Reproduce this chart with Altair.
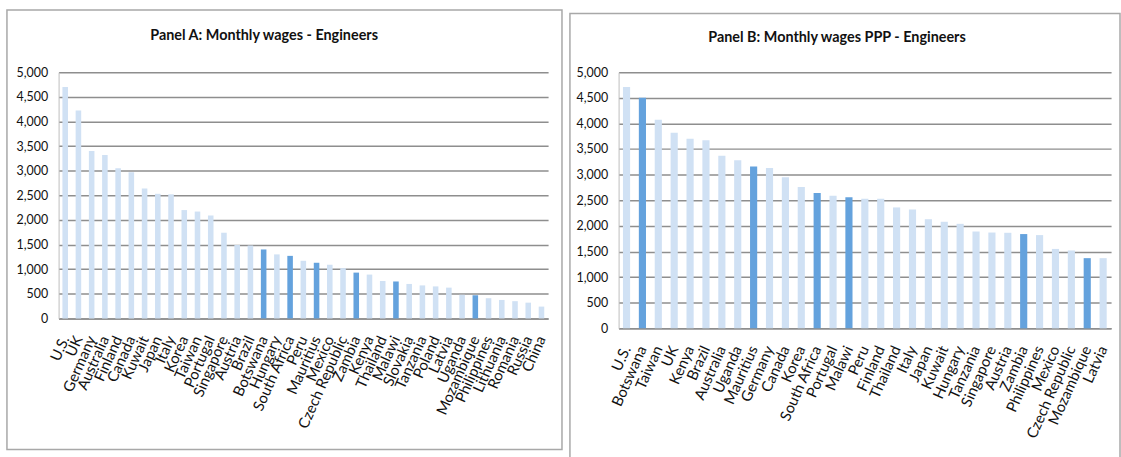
import altair as alt
import pandas as pd

# Panel A: monthly wages of engineers (US$)
countries_a = [
    "U.S.", "UK", "Germany", "Australia", "Finland", "Canada", "Kuwait", "Japan",
    "Italy", "Korea", "Taiwan", "Portugal", "Singapore", "Austria", "Brazil",
    "Botswana", "Hungary", "South Africa", "Peru", "Mauritius", "Mexico",
    "Czech Republic", "Zambia", "Kenya", "Thailand", "Malawi", "Slovakia",
    "Tanzania", "Poland", "Latvia", "Uganda", "Mozambique", "Philippines",
    "Lithuania", "Romania", "Russia", "China",
]
wages_a = [
    4700, 4220, 3400, 3320, 3050, 2970, 2640, 2530,
    2520, 2200, 2170, 2090, 1740, 1490, 1480,
    1400, 1300, 1270, 1170, 1130, 1090,
    1020, 930, 890, 760, 750, 700,
    670, 650, 625, 480, 470, 410,
    375, 350, 320, 240,
]

# Panel B: monthly wages of engineers at PPP
countries_b = [
    "U.S.", "Botswana", "Taiwan", "UK", "Kenya", "Brazil", "Australia", "Uganda",
    "Mauritius", "Germany", "Canada", "Korea", "South Africa", "Portugal",
    "Malawi", "Peru", "Finland", "Thailand", "Italy", "Japan", "Kuwait",
    "Hungary", "Tanzania", "Singapore", "Austria", "Zambia", "Philippines",
    "Mexico", "Czech Republic", "Mozambique", "Latvia",
]
wages_b = [
    4710, 4500, 4070, 3820, 3700, 3670, 3370, 3280,
    3160, 3130, 2950, 2760, 2640, 2590,
    2560, 2530, 2530, 2360, 2320, 2130, 2080,
    2040, 1890, 1870, 1865, 1840, 1820,
    1550, 1520, 1370, 1370,
]

# Countries drawn in the darker colour
highlighted = ["Botswana", "South Africa", "Mauritius", "Zambia", "Malawi", "Mozambique"]

y_ticks = [0, 500, 1000, 1500, 2000, 2500, 3000, 3500, 4000, 4500, 5000]

LIGHT = "#d0e1f4"
DARK = "#64a2dd"
GRID = "#8e8e8e"
FRAME = "#a8a8a8"
FONT = "Lato"


def panel(countries, wages, title, width, height, pad_inner, title_x, title_y, frame):
    df = pd.DataFrame({
        "country": countries,
        "wage": wages,
        "group": ["hi" if c in highlighted else "lo" for c in countries],
    })
    bars = alt.Chart(df).mark_bar().encode(
        x=alt.X(
            "country:N",
            sort=countries,
            scale=alt.Scale(paddingInner=pad_inner, paddingOuter=pad_inner / 2),
            axis=alt.Axis(
                title=None, labelAngle=-66, labelAlign="right", labelBaseline="middle",
                labelPadding=18, ticks=False, domainColor=GRID, domainWidth=1.5,
                labelFont=FONT, labelFontSize=15, labelColor="#111",
            ),
        ),
        y=alt.Y(
            "wage:Q",
            scale=alt.Scale(domain=[0, 5000], nice=False),
            axis=alt.Axis(
                title=None, values=y_ticks, format=",d", grid=True, gridColor=GRID,
                gridWidth=1.5, ticks=False, domainColor="#bdbdbd", labelPadding=11,
                labelFont=FONT, labelFontSize=12.5, labelColor="#111",
            ),
        ),
        color=alt.Color(
            "group:N",
            scale=alt.Scale(domain=["lo", "hi"], range=[LIGHT, DARK]),
            legend=None,
        ),
    )
    one = pd.DataFrame({"label": [title]})
    heading = alt.Chart(one).mark_text(
        font=FONT, fontSize=14.5, fontWeight="bold", color="#111",
        align="center", baseline="middle",
    ).encode(text="label:N", x=alt.value(title_x), y=alt.value(title_y))
    x0, x1, y0, y1 = frame
    border = alt.Chart(one).mark_rect(
        filled=False, stroke=FRAME, strokeWidth=1.5
    ).encode(x=alt.value(x0), x2=alt.value(x1), y=alt.value(y0), y2=alt.value(y1))
    return alt.layer(border, bars, heading).properties(width=width, height=height)


panel_a = panel(
    countries_a, wages_a, "Panel A: Monthly wages - Engineers",
    493, 248, 0.58, 207, -36, (-52, 507, -62.5, 380),
)
panel_b = panel(
    countries_b, wages_b, "Panel B: Monthly wages PPP - Engineers",
    496, 258, 0.55, 220, -34, (-49, 505, -59, 400),
)

chart = alt.hconcat(panel_a, panel_b, spacing=6).properties(
    padding={"left": 6, "top": 7, "right": 0, "bottom": 0},
    background="white",
).configure_view(stroke=None)

chart.save("out.html", embed_options={"renderer": "svg", "actions": False})
